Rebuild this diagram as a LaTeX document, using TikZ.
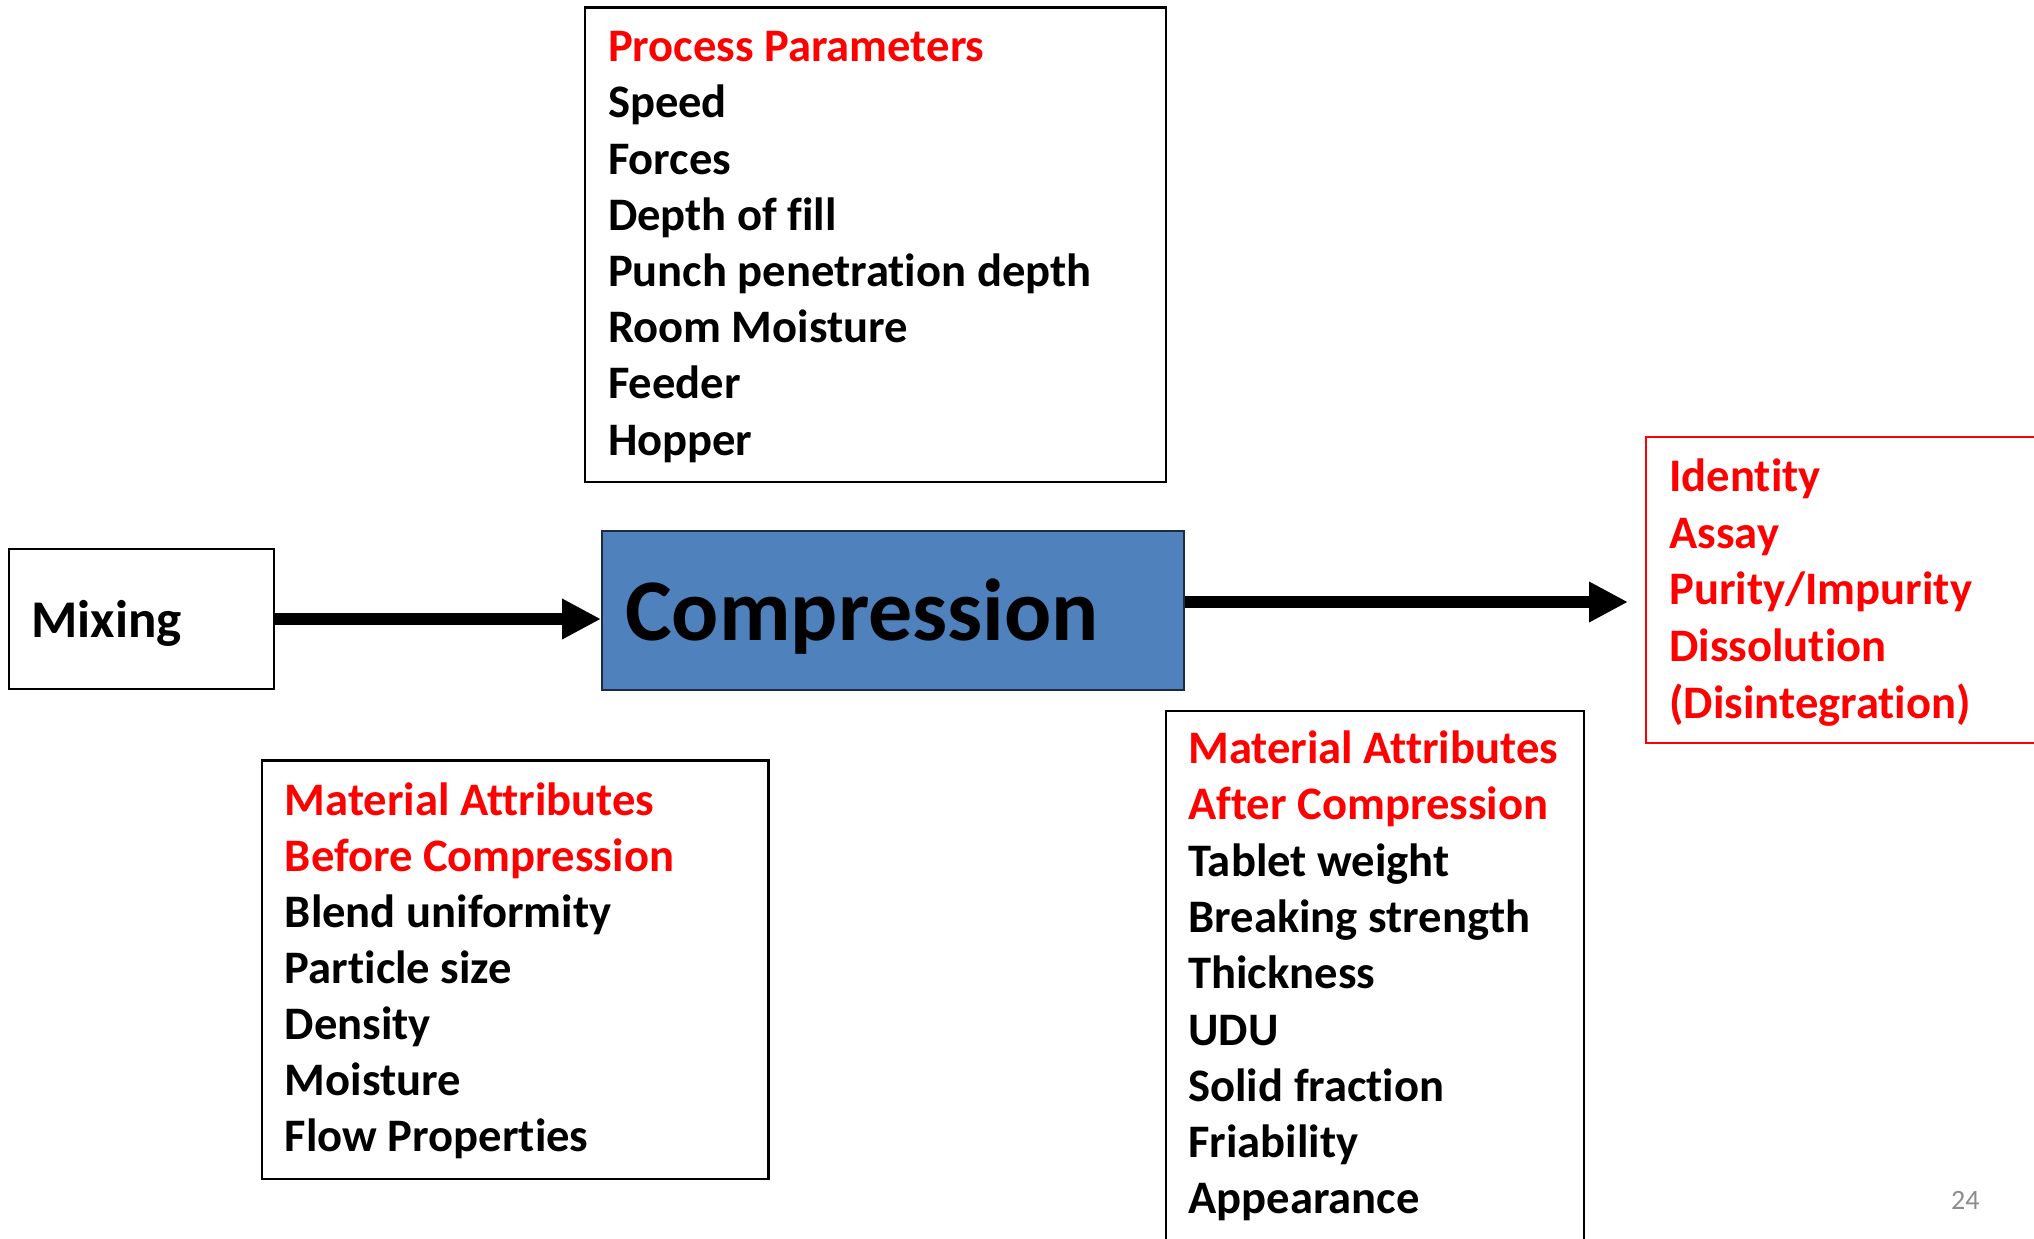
\documentclass[tikz,border=0pt]{standalone}
\usepackage{fontspec}
\setmainfont{Carlito}[Ligatures={NoCommon,NoContextual}]
\usetikzlibrary{arrows.meta,calc}
\definecolor{procblue}{HTML}{4F81BD}
\definecolor{procedge}{HTML}{1E2B3C}
\definecolor{hot}{HTML}{FF0000}
\definecolor{pagegray}{HTML}{8C8C8C}
\tikzset{
  frame/.style={draw=black, line width=1.25pt, inner sep=0pt},
  redframe/.style={draw=hot, line width=1.1pt, inner sep=0pt},
  item/.style={anchor=base west, inner sep=0pt, font=\fontsize{23.3}{27}\selectfont\bfseries},
  head/.style={item, text=hot},
  flow/.style={line width=6.35pt, -{Triangle[length=19.5pt,width=19pt]}},
}
\begin{document}
\begin{tikzpicture}[x=0.5pt,y=-0.5pt]
\useasboundingbox (0,0) rectangle (2034,1238);
\clip (0,0) rectangle (2034,1238);

% boxes
\node[frame, minimum width=290.5pt, minimum height=237.25pt] (pp) at (875.5,244.75) {};
\node[frame, minimum width=132.5pt, minimum height=70pt] (mix) at (141.5,619) {};
\node[draw=procedge, line width=1pt, fill=procblue, inner sep=0pt,
      minimum width=291pt, minimum height=79.5pt] (comp) at (893,610.5) {};
\node[redframe, minimum width=202pt, minimum height=153pt] (cqa) at (1848,590) {};
\node[frame, minimum width=253.25pt, minimum height=209.25pt] (before) at (515.25,969.75) {};
\node[frame, minimum width=209pt, minimum height=269.5pt] (after) at (1375,980.5) {};

% main labels
\node[anchor=base west, inner sep=0pt, font=\fontsize{26.5}{31}\selectfont\bfseries] (mixlbl) at (31,637) {Mixing};
\node[anchor=base west, inner sep=0pt, font=\fontsize{44}{52}\selectfont\bfseries] (complbl) at (625,640) {Compression};

% process parameters
\node[head] (pp0) at (607.6,61.7) {Process Parameters};
\foreach \t [count=\i] in {Speed,Forces,Depth of fill,Punch penetration depth,Room Moisture,Feeder,Hopper}
  \node[item] (pp\i) at (607.6,61.7+56.2*\i) {\t};

% material attributes before compression
\node[head] (mb0) at (284.5,815) {Material Attributes};
\node[head] (mb1) at (284.5,871.1) {Before Compression};
\foreach \t [count=\i from 2] in {Blend uniformity,Particle size,Density,Moisture,Flow Properties}
  \node[item] (mb\i) at (284.5,815+56.1*\i) {\t};

% material attributes after compression
\node[head] (ma0) at (1188,763.5) {Material Attributes};
\node[head] (ma1) at (1188,819.8) {After Compression};
\foreach \t [count=\i from 2] in {Tablet weight,Breaking strength,Thickness,UDU,Solid fraction,Friability,Appearance}
  \node[item] (ma\i) at (1188,763.5+56.3*\i) {\t};

% quality attributes
\foreach \t [count=\i from 0] in {Identity,Assay,Purity/Impurity,Dissolution,(Disintegration)}
  \node[head] (q\i) at (1669,491.7+56.6*\i) {\t};

% connectors
\coordinate (out) at (1628,602);
\draw[flow] (mix.east) -- (mix.east -| comp.west);
\draw[flow] (comp.east |- out) -- (out);

% page number
\node[anchor=base east, inner sep=0pt, text=pagegray, font=\fontsize{14}{16}\selectfont] (pnum) at (1980,1209) {24};
\end{tikzpicture}
\end{document}
